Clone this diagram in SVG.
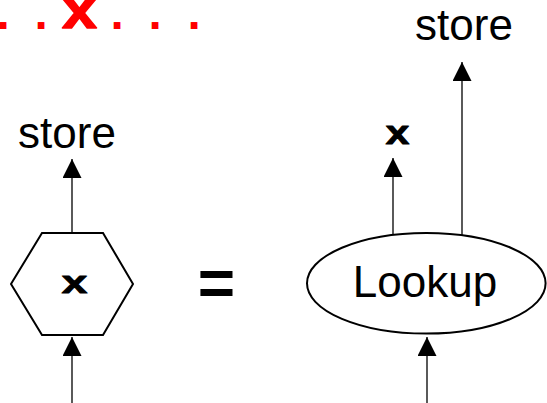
<svg xmlns="http://www.w3.org/2000/svg" width="547" height="403" viewBox="0 0 547 403">
<style>
.shape{fill:#fff;stroke:#000;stroke-width:2}
.conn{stroke:#000;stroke-width:1.3;fill:none;marker-end:url(#ah)}
.sans{font-family:"Liberation Sans",Arial,sans-serif;fill:#000}
.mono{font-family:"Liberation Mono","Courier New",monospace;font-weight:bold;stroke-linejoin:round}
</style>
<defs>
<marker id="ah" markerUnits="userSpaceOnUse" viewBox="0 0 20 20" refX="20" refY="10" markerWidth="19" markerHeight="19" orient="auto">
<path d="M0,0 L20,10 L0,20 z" fill="#000"/>
</marker>
</defs>
<rect width="547" height="403" fill="#fff"/>
<text id="title" class="mono" y="29" font-size="47" fill="#f00"><tspan x="-11.1 26.9">..</tspan><tspan x="61" font-size="56" textLength="37" lengthAdjust="spacingAndGlyphs" stroke="#f00" stroke-width="1.5" y="28">x</tspan><tspan x="102.9 140.9 179.9" y="29">...</tspan></text>
<g id="connectors">
<line class="conn" x1="72" y1="403" x2="72" y2="337"/>
<line class="conn" x1="72" y1="233" x2="72" y2="159"/>
<line class="conn" x1="393" y1="235" x2="393" y2="158"/>
<line class="conn" x1="462" y1="235" x2="462" y2="62"/>
<line class="conn" x1="427" y1="403" x2="427" y2="337"/>
</g>
<g id="hex">
<polygon class="shape" points="42,233 103,233 133,284 103,335 42,335 11,284"/>
<text class="mono" x="61" y="293" font-size="32" textLength="27" lengthAdjust="spacingAndGlyphs" stroke="#000" stroke-width="1">x</text>
</g>
<g id="lookup">
<ellipse class="shape" cx="426.3" cy="283.3" rx="119.3" ry="50.3"/>
<text class="sans" x="425" y="297" font-size="44" text-anchor="middle">Lookup</text>
</g>
<g id="store-left"><text class="sans" x="67" y="148" font-size="44" text-anchor="middle">store</text></g>
<g id="store-right"><text class="sans" x="464" y="40" font-size="44" text-anchor="middle">store</text></g>
<g id="x-label"><text class="mono" x="385" y="144" font-size="33" textLength="25" lengthAdjust="spacingAndGlyphs" stroke="#000" stroke-width="1">x</text></g>
<g id="equals"><text class="sans" x="216.5" y="305" font-size="64" font-weight="bold" text-anchor="middle">=</text></g>
</svg>
